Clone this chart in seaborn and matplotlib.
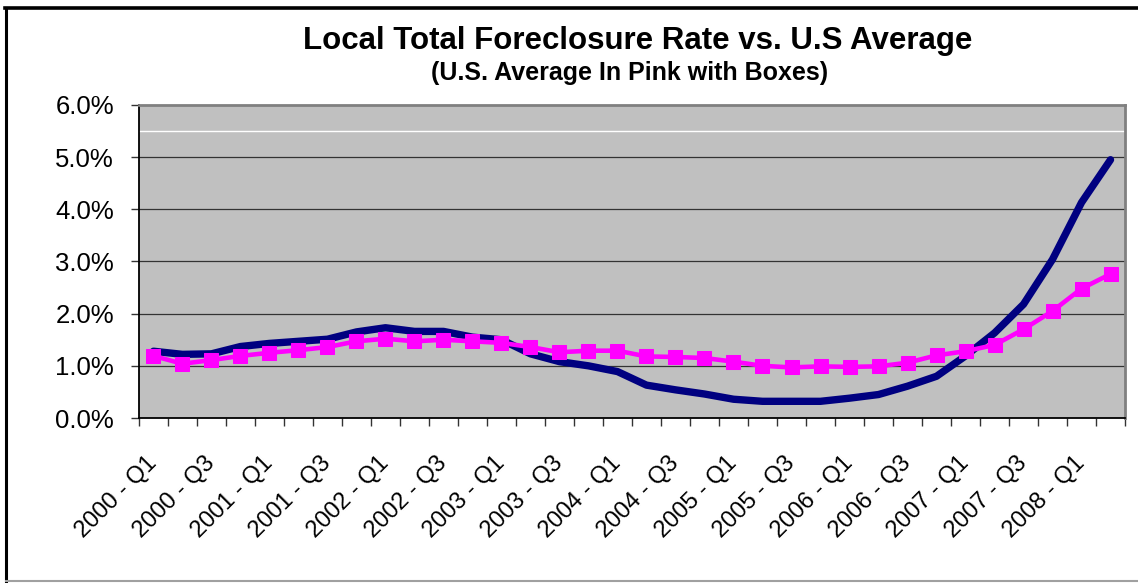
"""Local vs U.S. foreclosure rate line chart."""
import matplotlib
matplotlib.use('Agg')
import matplotlib.pyplot as plt
from matplotlib.lines import Line2D
from matplotlib.ticker import FixedLocator, StrMethodFormatter
import seaborn as sns
import pandas as pd

# Quarters 2000 Q1 .. 2008 Q2
years = [str(y) for y in range(2000, 2009)]
quarters = [f'{y} - Q{q}' for y in years for q in (1, 2, 3, 4)][:34]

# Local total foreclosure rate (%)
local_rate = [1.28, 1.22, 1.23, 1.37, 1.43, 1.47, 1.51, 1.65, 1.73, 1.66,
              1.66, 1.55, 1.50, 1.23, 1.08, 1.00, 0.89, 0.63, 0.54, 0.46,
              0.36, 0.32, 0.32, 0.32, 0.38, 0.45, 0.61, 0.80, 1.19, 1.63,
              2.18, 3.04, 4.13, 4.95]

# U.S. average (%)
us_rate = [1.19, 1.04, 1.11, 1.19, 1.25, 1.30, 1.36, 1.47, 1.52, 1.47,
           1.50, 1.47, 1.44, 1.36, 1.26, 1.29, 1.29, 1.18, 1.17, 1.15,
           1.08, 1.00, 0.97, 0.99, 0.98, 0.99, 1.06, 1.20, 1.28, 1.40,
           1.70, 2.05, 2.48, 2.76]

y_ticks = [0, 1, 2, 3, 4, 5, 6]

df = pd.DataFrame({
    'pos': range(len(quarters)),
    'quarter': quarters,
    'local': local_rate,
    'us': us_rate,
})

plt.rcParams['font.family'] = ['Liberation Sans', 'DejaVu Sans']

fig = plt.figure(figsize=(11.38, 5.83), dpi=100)
ax = fig.add_axes([0.1221, 0.283, 0.8665, 0.537])
ax.set_facecolor('#C0C0C0')

sns.lineplot(data=df, x='pos', y='local', color='#000080', linewidth=5.3,
             solid_capstyle='round', ax=ax, zorder=3)
sns.lineplot(data=df, x='pos', y='us', color='#FF00FF', linewidth=3.3,
             marker='s', markersize=9.5, markeredgecolor='#FF00FF', ax=ax,
             zorder=4)

# Gridlines and the odd white line near the top
for v in y_ticks[1:-1]:
    ax.axhline(v, color='#333333', linewidth=0.9, zorder=1)
ax.axhline(5.5, color='white', linewidth=1.0, zorder=1)

ax.set_xlim(-0.5, len(quarters) - 0.5)
ax.set_ylim(0, 6)
ax.set_yticks(y_ticks)
ax.yaxis.set_major_formatter(StrMethodFormatter('{x:.1f}%'))

# Major ticks at category boundaries, labels every other quarter
ax.xaxis.set_major_locator(FixedLocator([i - 0.5 for i in range(len(quarters) + 1)]))
ax.xaxis.set_minor_locator(FixedLocator(list(range(0, len(quarters), 2))))
ax.set_xticklabels([])
ax.set_xticklabels(quarters[::2], minor=True)
ax.tick_params(axis='x', which='major', length=6, width=1, color='#333333')
ax.tick_params(axis='x', which='minor', length=0, pad=30, labelsize=17)
for lab in ax.get_xticklabels(minor=True):
    lab.set_rotation(45)
    lab.set_ha('right')
    lab.set_va('center')
    lab.set_rotation_mode('anchor')
ax.tick_params(axis='y', length=6, width=1, color='#333333', pad=12,
               labelsize=18.5)

ax.set_xlabel('')
ax.set_ylabel('')
for side in ('top', 'right'):
    ax.spines[side].set_color('#808080')
    ax.spines[side].set_linewidth(2)
for side in ('left', 'bottom'):
    ax.spines[side].set_color('black')
    ax.spines[side].set_linewidth(1.3)

fig.text(0.56, 0.93, 'Local Total Foreclosure Rate vs. U.S Average',
         ha='center', va='center', fontsize=22.5, fontweight='bold')
fig.text(0.553, 0.875, '(U.S. Average In Pink with Boxes)',
         ha='center', va='center', fontsize=18, fontweight='bold')

# Outer chart border
fig.add_artist(Line2D([0.0055, 0.0055], [0, 0.987], color='black',
                      linewidth=2.2, transform=fig.transFigure))
fig.add_artist(Line2D([0.0045, 1], [0.986, 0.986], color='black',
                      linewidth=2.6, transform=fig.transFigure))
fig.add_artist(Line2D([0.005, 1], [0.003, 0.003], color='#A0A0A0',
                      linewidth=1.5, transform=fig.transFigure))

fig.savefig('out.png', dpi=100)
plt.close(fig)
